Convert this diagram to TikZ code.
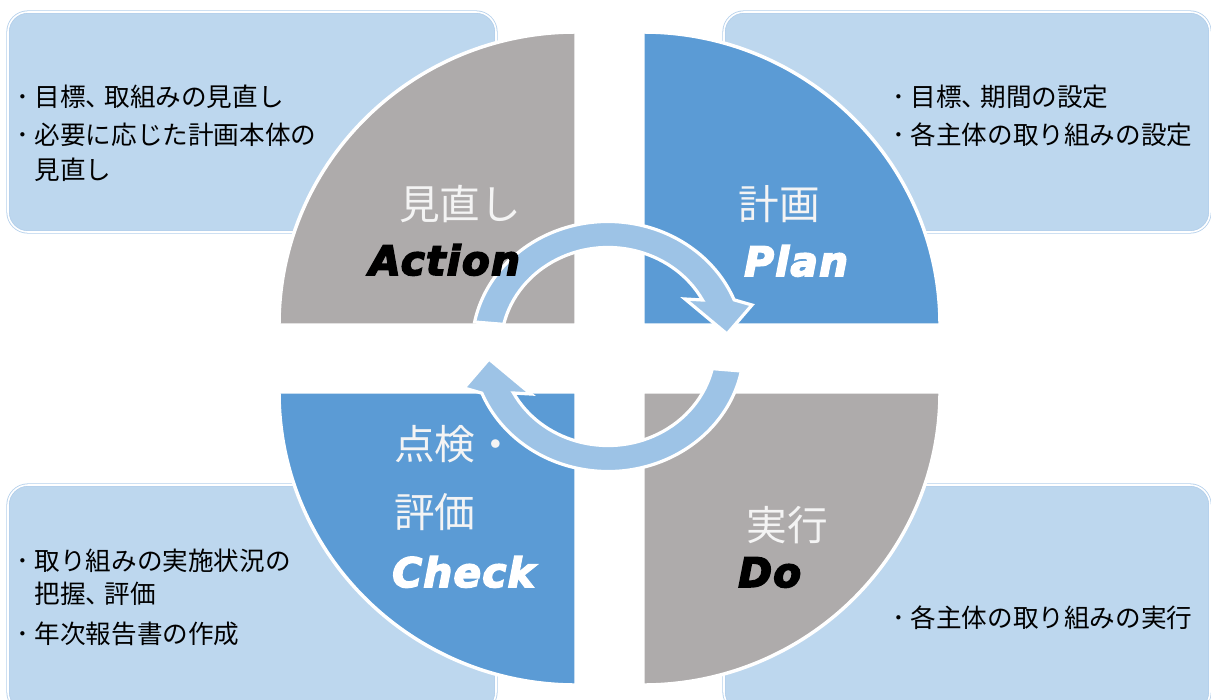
\documentclass[tikz,border=0pt]{standalone}
\usepackage{fontspec}
\newfontfamily\jp{Noto Sans CJK JP}
\newfontfamily\eng{DejaVu Sans}[FakeBold=4,LetterSpace=3]
\definecolor{boxblue}{HTML}{BDD7EE}
\definecolor{boxrim}{HTML}{B3CFEB}
\definecolor{secgray}{HTML}{AEABAB}
\definecolor{secblue}{HTML}{5B9BD5}
\definecolor{ringblue}{HTML}{9DC3E6}
\definecolor{labwhite}{HTML}{F4F4F4}
\newcommand\tcomma{\makebox[0.72em][l]{、}}
\newcommand\tbul{\makebox[0.7em][l]{･}}
\begin{document}
\begin{tikzpicture}[x=0.75pt,y=-0.75pt,
  boxst/.style={fill=boxblue,draw=boxrim,double=white,double distance=1.2pt,line width=0.6pt,rounded corners=15pt},
  secg/.style={fill=secgray,draw=white,line width=2.6pt,line join=miter},
  secb/.style={fill=secblue,draw=white,line width=2.6pt,line join=miter},
  ringst/.style={fill=ringblue,draw=white,line width=2.4pt,line join=miter,miter limit=6},
  bodytxt/.style={anchor=base west,inner sep=0pt,font=\jp\fontsize{19.2}{22}\selectfont,text=black},
  bigjp/.style={inner sep=0pt,font=\jp\fontsize{30.5}{34}\selectfont,text=labwhite},
  engl/.style={anchor=base west,inner sep=0pt,font=\eng\bfseries\itshape\fontsize{30.5}{34}\selectfont}]
\useasboundingbox (0,0) rectangle (1211,700);
\clip (0,0) rectangle (1211,700);
% boxes
\path[boxst] (8,12) rectangle (496,232);
\path[boxst] (724,12) rectangle (1210,232);
\path[boxst] (8,485) rectangle (496,712);
\path[boxst] (724,485) rectangle (1210,712);
% sectors
\path[secg] (576,325) -- (279,325) arc[start angle=180,end angle=270,x radius=297,y radius=293] -- cycle;
\path[secb] (643,325) -- (643,32) arc[start angle=270,end angle=360,x radius=297,y radius=293] -- cycle;
\path[secb] (576,392) -- (576,685) arc[start angle=90,end angle=180,x radius=297,y radius=293] -- cycle;
\path[secg] (643,392) -- (940,392) arc[start angle=0,end angle=90,x radius=297,y radius=293] -- cycle;
% circular arrows
\path[ringst] (474.6,322) arc[start angle=191.3,end angle=338.1,x radius=136,y radius=125]
  -- (752,305) -- (727,334) -- (685,299) -- (702.5,300)
  arc[start angle=332,end angle=192.9,x radius=107,y radius=99] -- cycle;
\begin{scope}[rotate around={180:(608,346.5)}]
\path[ringst] (474.6,322) arc[start angle=191.3,end angle=338.1,x radius=136,y radius=125]
  -- (752,305) -- (727,334) -- (685,299) -- (702.5,300)
  arc[start angle=332,end angle=192.9,x radius=107,y radius=99] -- cycle;
\end{scope}
% big labels
\node[bigjp,anchor=base] (actjp) at (460,219.5) {見直し};
\node[engl,text=black] (acten) at (369,275) {Action};
\node[bigjp,anchor=base] (planjp) at (779,219.5) {計画};
\node[engl,text=white] (planen) at (744,276) {Plan};
\node[bigjp,anchor=base west] (chkjp1) at (394,459.5) {点検・};
\node[bigjp,anchor=base west] (chkjp2) at (394,527.5) {評価};
\node[engl,text=white] (chken) at (392,587) {Check};
\node[bigjp,anchor=base] (dojp) at (787,540.5) {実行};
\node[engl,text=black] (doen) at (738,587) {Do};
% box texts
\node[bodytxt] (tl1) at (16.6,106.5) {\tbul 目標\tcomma 取組みの見直し};
\node[bodytxt] (tl2) at (16.6,144.5) {\tbul 必要に応じた計画本体の};
\node[bodytxt] (tl3) at (34.5,179.5) {見直し};
\node[bodytxt] (tr1) at (892.6,106.5) {\tbul 目標\tcomma 期間の設定};
\node[bodytxt] (tr2) at (892.6,144.5) {\tbul 各主体の取り組みの設定};
\node[bodytxt] (bl1) at (16.6,570) {\tbul 取り組みの実施状況の};
\node[bodytxt] (bl2) at (34.5,603.5) {把握\tcomma 評価};
\node[bodytxt] (bl3) at (16.6,643) {\tbul 年次報告書の作成};
\node[bodytxt] (br1) at (892.6,627.5) {\tbul 各主体の取り組みの実行};
\end{tikzpicture}
\end{document}
